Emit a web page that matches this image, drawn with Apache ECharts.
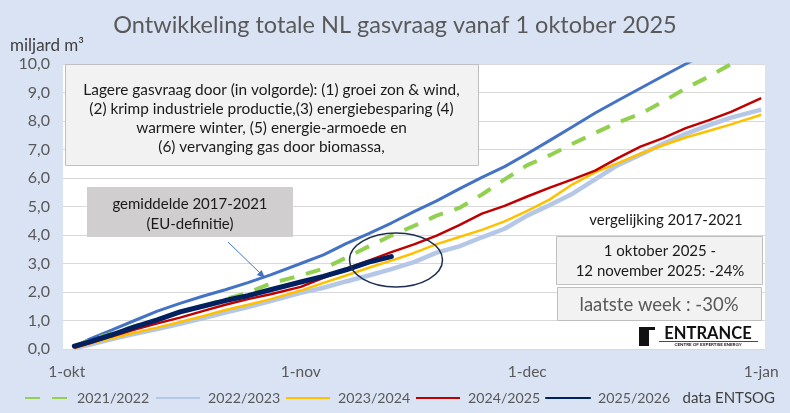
<!DOCTYPE html>
<html>
<head>
<meta charset="utf-8">
<script src="https://cdn.jsdelivr.net/npm/echarts@6/dist/echarts.min.js"></script>
<style>html,body{margin:0;padding:0;background:#dae3f3;}#c{width:790px;height:413px;}</style>
</head>
<body>
<div id="c"></div>
<script>
// ---- data ----
const days = [1,3,6,9,12,15,18,21,24,27,31,34,37,40,43,46,49,52,55,58,61,64,67,70,73,76,79,82,85,88,92];
const avg2017 = [0.08,0.35,0.67,1.0,1.33,1.6,1.85,2.08,2.33,2.6,3.0,3.3,3.7,4.05,4.42,4.82,5.2,5.62,6.02,6.4,6.85,7.32,7.8,8.28,8.72,9.15,9.58,10.0,10.4,10.8,11.3];
const s2021 = [0.08,0.3,0.55,0.8,1.03,1.28,1.5,1.75,1.97,2.3,2.58,2.82,3.2,3.6,3.98,4.32,4.68,4.95,5.42,5.95,6.45,6.8,7.2,7.58,7.95,8.25,8.68,9.15,9.55,10.0,10.55];
const s2022 = [0.03,0.15,0.35,0.53,0.7,0.88,1.08,1.28,1.47,1.68,1.97,2.15,2.37,2.58,2.8,3.05,3.38,3.6,3.92,4.22,4.68,5.05,5.45,5.95,6.45,6.82,7.2,7.55,7.85,8.12,8.4];
const s2023 = [0.03,0.18,0.38,0.57,0.75,0.95,1.15,1.37,1.55,1.75,2.05,2.32,2.58,2.85,3.1,3.37,3.68,3.93,4.18,4.48,4.85,5.25,5.78,6.2,6.52,6.85,7.15,7.42,7.65,7.88,8.22];
const s2024 = [0.04,0.2,0.45,0.68,0.9,1.1,1.33,1.55,1.75,1.92,2.18,2.5,2.82,3.1,3.4,3.67,3.98,4.35,4.75,5.02,5.35,5.66,5.95,6.26,6.7,7.1,7.4,7.75,8.02,8.32,8.8];
const days2025 = [1,3,6,9,12,15,18,21,24,27,31,34,37,40,43];
const s2025 = [0.1,0.25,0.5,0.78,1.02,1.3,1.5,1.7,1.87,2.08,2.35,2.55,2.78,3.05,3.24];
const xTickDays = [0,31,61,92];
const xTickLabels = ['1-okt','1-nov','1-dec','1-jan'];
const seriesNames = ['gemiddelde 2017-2021','2021/2022','2022/2023','2023/2024','2024/2025','2025/2026'];

const FONT = 'Lato, "Open Sans", sans-serif';
const pair = (d, v) => d.map((x, i) => [x, v[i]]);

const chart = echarts.init(document.getElementById('c'), null, {renderer: 'canvas'});

function legendItem(name, left) {
  return {
    data: [name], left: left, top: 386, itemWidth: 44, itemHeight: 14,
    itemStyle: {opacity: 0},
    textStyle: {fontFamily: FONT, fontSize: 14.2, color: '#595959', padding: [0,0,0,3]},
    selectedMode: false
  };
}

const common = {type: 'line', showSymbol: false, symbol: 'none'};

const option = {
  backgroundColor: '#dae3f3',
  animation: false,
  title: {
    text: 'Ontwikkeling totale NL gasvraag vanaf 1 oktober 2025',
    left: 'center', top: 8,
    textStyle: {fontFamily: FONT, fontSize: 23.5, fontWeight: 'normal', color: '#595959'}
  },
  legend: [
    legendItem('2021/2022', 19),
    legendItem('2022/2023', 150),
    legendItem('2023/2024', 280),
    legendItem('2024/2025', 410),
    legendItem('2025/2026', 540)
  ],
  grid: {left: 63, right: 25, top: 64, bottom: 64, show: true, backgroundColor: '#ffffff', borderWidth: 0},
  xAxis: {
    type: 'value', min: -0.5, max: 92.5,
    axisLine: {show: false}, axisTick: {show: false}, splitLine: {show: false},
    axisLabel: {
      customValues: xTickDays,
      formatter: v => xTickLabels[xTickDays.indexOf(Math.round(v))] || '',
      fontFamily: FONT, fontSize: 15.5, color: '#595959', margin: 15
    }
  },
  yAxis: {
    type: 'value', min: 0, max: 10, interval: 1,
    axisLine: {show: false}, axisTick: {show: false},
    splitLine: {lineStyle: {color: '#d9d9d9', width: 1}},
    axisLabel: {
      formatter: v => v.toFixed(1).replace('.', ','),
      fontFamily: FONT, fontSize: 16, color: '#595959', margin: 13
    }
  },
  series: [
    Object.assign({name: seriesNames[0], data: pair(days, avg2017),
     lineStyle: {color: '#4472c4', width: 3}, itemStyle: {color: '#4472c4'}, z: 2}, common),
    Object.assign({name: seriesNames[1], data: pair(days, s2021),
     lineStyle: {color: '#92d050', width: 4, type: [15, 12]}, itemStyle: {color: '#92d050'}, z: 3}, common),
    Object.assign({name: seriesNames[2], data: pair(days, s2022),
     lineStyle: {color: '#b4c7e7', width: 4.5}, itemStyle: {color: '#b4c7e7'}, z: 4}, common),
    Object.assign({name: seriesNames[3], data: pair(days, s2023),
     lineStyle: {color: '#ffc000', width: 2.5}, itemStyle: {color: '#ffc000'}, z: 5}, common),
    Object.assign({name: seriesNames[4], data: pair(days, s2024),
     lineStyle: {color: '#c00000', width: 2.5}, itemStyle: {color: '#c00000'}, z: 6}, common),
    Object.assign({name: seriesNames[5], data: pair(days2025, s2025),
     lineStyle: {color: '#002060', width: 5, cap: 'round'}, itemStyle: {color: '#002060'}, z: 7}, common)
  ],
  graphic: [
    {type: 'text', left: 10, top: 37, style: {text: 'miljard m³', font: '17px ' + FONT, fill: '#404040'}},
    // top explanatory box
    {type: 'rect', shape: {x: 65.5, y: 64.5, width: 413, height: 101}, style: {fill: '#f2f2f2', stroke: '#bfbfbf', lineWidth: 1}, z: 10},
    {type: 'text', x: 271.5, y: 80.5, z: 11, style: {
      text: 'Lagere gasvraag door (in volgorde): (1) groei zon & wind,\n(2) krimp industriele productie,(3) energiebesparing (4)\nwarmere winter, (5) energie-armoede en\n(6) vervanging gas door biomassa,',
      font: '15.4px ' + FONT, fill: '#1a1a1a', align: 'center', verticalAlign: 'top', lineHeight: 19}},
    // average label box
    {type: 'rect', shape: {x: 87, y: 187, width: 206, height: 50}, style: {fill: '#d0cece'}, z: 10},
    {type: 'text', x: 190, y: 194, z: 11, style: {
      text: 'gemiddelde 2017-2021\n(EU-definitie)', font: '15px ' + FONT, fill: '#1a1a1a', align: 'center', verticalAlign: 'top', lineHeight: 20}},
    {type: 'line', shape: {x1: 228, y1: 242, x2: 261, y2: 274}, style: {stroke: '#4472c4', lineWidth: 1}, z: 10},
    {type: 'polygon', shape: {points: [[265, 278], [261.6, 270.0], [256.8, 275.0]]}, style: {fill: '#4472c4'}, z: 10},
    // ellipse
    {type: 'ellipse', shape: {cx: 396, cy: 260, rx: 46.5, ry: 27}, style: {fill: 'none', stroke: '#1f2f50', lineWidth: 1.5}, z: 10},
    // comparison
    {type: 'text', x: 666, y: 220, z: 11, style: {text: 'vergelijking 2017-2021', font: '15px ' + FONT, fill: '#1a1a1a', align: 'center', verticalAlign: 'middle'}},
    {type: 'rect', shape: {x: 556.5, y: 236.5, width: 206, height: 48}, style: {fill: '#f2f2f2', stroke: '#bfbfbf', lineWidth: 1}, z: 10},
    {type: 'text', x: 660, y: 251, z: 11, style: {text: '1 oktober 2025 -', font: '15px ' + FONT, fill: '#1a1a1a', align: 'center', verticalAlign: 'middle'}},
    {type: 'text', x: 660, y: 271, z: 11, style: {text: '12 november 2025: -24%', font: '15px ' + FONT, fill: '#1a1a1a', align: 'center', verticalAlign: 'middle'}},
    {type: 'rect', shape: {x: 557.5, y: 287.5, width: 204, height: 33}, style: {fill: '#f2f2f2', stroke: '#bfbfbf', lineWidth: 1}, z: 10},
    {type: 'text', x: 659, y: 305, z: 11, style: {text: 'laatste week : -30%', font: '18.5px ' + FONT, fill: '#595959', align: 'center', verticalAlign: 'middle'}},
    // logo
    {type: 'rect', shape: {x: 639, y: 327, width: 6, height: 19}, style: {fill: '#111'}, z: 10},
    {type: 'rect', shape: {x: 639, y: 327, width: 16, height: 3}, style: {fill: '#111'}, z: 10},
    {type: 'rect', shape: {x: 645, y: 330, width: 4, height: 16}, style: {fill: '#111'}, z: 10},
    {type: 'text', x: 708, y: 334, z: 11, style: {text: 'ENTRANCE', font: 'bold 16.5px ' + FONT, fill: '#111', align: 'center', verticalAlign: 'middle'}},
    {type: 'rect', shape: {x: 659, y: 341, width: 99, height: 0.8}, style: {fill: '#111'}, z: 10},
    {type: 'text', x: 708, y: 344.5, z: 11, style: {text: 'CENTRE OF EXPERTISE ENERGY', font: 'bold 4.5px ' + FONT, fill: '#111', align: 'center', verticalAlign: 'middle'}},
    // data source
    {type: 'text', x: 775, y: 398, style: {text: 'data ENTSOG', font: '15px ' + FONT, fill: '#404040', align: 'right', verticalAlign: 'middle'}}
  ]
};
chart.setOption(option);
</script>
</body>
</html>
